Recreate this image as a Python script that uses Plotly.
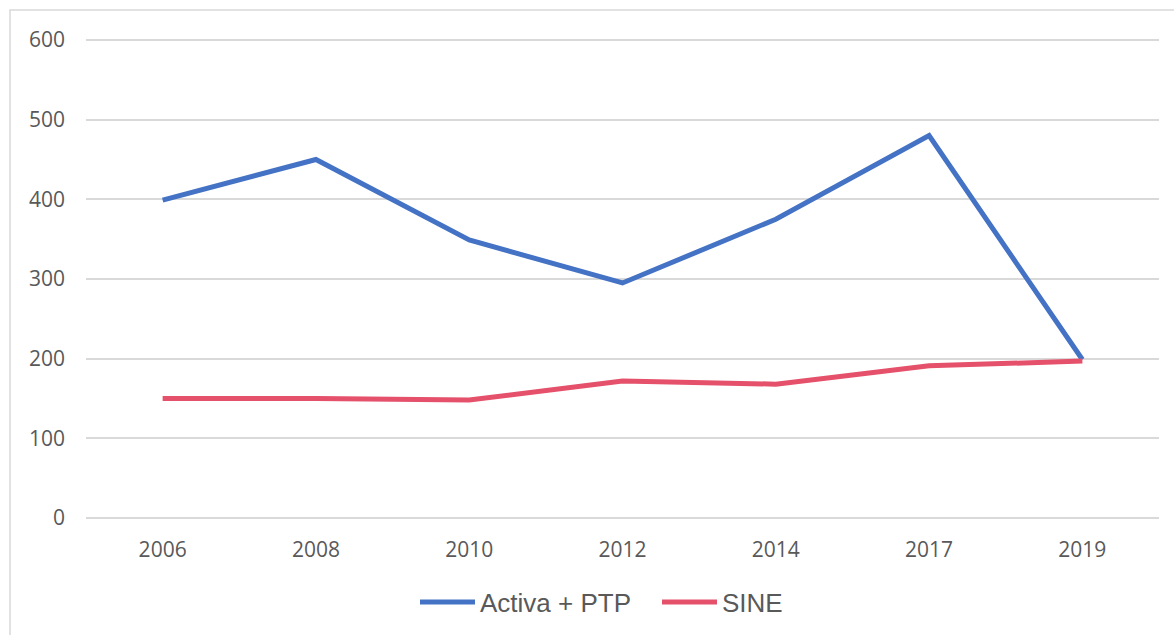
import plotly.graph_objects as go

years = ["2006", "2008", "2010", "2012", "2014", "2017", "2019"]
activa_ptp = [399, 450, 349, 295, 375, 480, 199]
sine = [150, 150, 148, 172, 168, 191, 197]
y_ticks = [0, 100, 200, 300, 400, 500, 600]

W, H = 1174, 635
ML, MR, MT, MB = 86, 15, 38, 115
PW = W - ML - MR
PH = H - MT - MB

fig = go.Figure()
fig.add_trace(go.Scatter(x=years, y=activa_ptp, mode="lines", name="Activa + PTP",
                         line=dict(color="#4472C4", width=5)))
fig.add_trace(go.Scatter(x=years, y=sine, mode="lines", name="SINE",
                         line=dict(color="#E5506A", width=5)))

def px_x(p):
    return (p - ML) / PW

def px_y(p):
    return (H - MB - p) / PH

fig.add_shape(type="rect", xref="paper", yref="paper",
              x0=px_x(10), x1=px_x(1190), y0=px_y(10), y1=px_y(650),
              line=dict(color="#D9D9D9", width=1.5), fillcolor="rgba(0,0,0,0)", layer="below")

tick_font = dict(family="Open Sans", size=21, color="#595959")
fig.update_layout(
    width=W, height=H,
    margin=dict(l=ML, r=MR, t=MT, b=MB, autoexpand=False),
    paper_bgcolor="white", plot_bgcolor="white",
    showlegend=True,
    legend=dict(orientation="h", xref="container", yref="container",
                x=415 / W, xanchor="left", y=1 - 602 / H, yanchor="middle",
                font=dict(family="Liberation Sans, Arial", size=26, color="#595959"),
                itemwidth=55, entrywidth=172, entrywidthmode="pixels", tracegroupgap=0),
    xaxis=dict(type="category", range=[-0.5, 6.5], showgrid=False, zeroline=False, showline=False,
               ticks="", tickfont=tick_font, ticklabelstandoff=15),
    yaxis=dict(range=[-2.5, 602.5], tickvals=y_ticks, showgrid=True, gridcolor="#D9D9D9", gridwidth=1.5,
               zeroline=False, showline=False, ticks="", tickfont=tick_font,
               ticklabelstandoff=20),
)

fig.write_html("out.html", config={"displayModeBar": False},
               post_script="document.body.style.margin='0';")
